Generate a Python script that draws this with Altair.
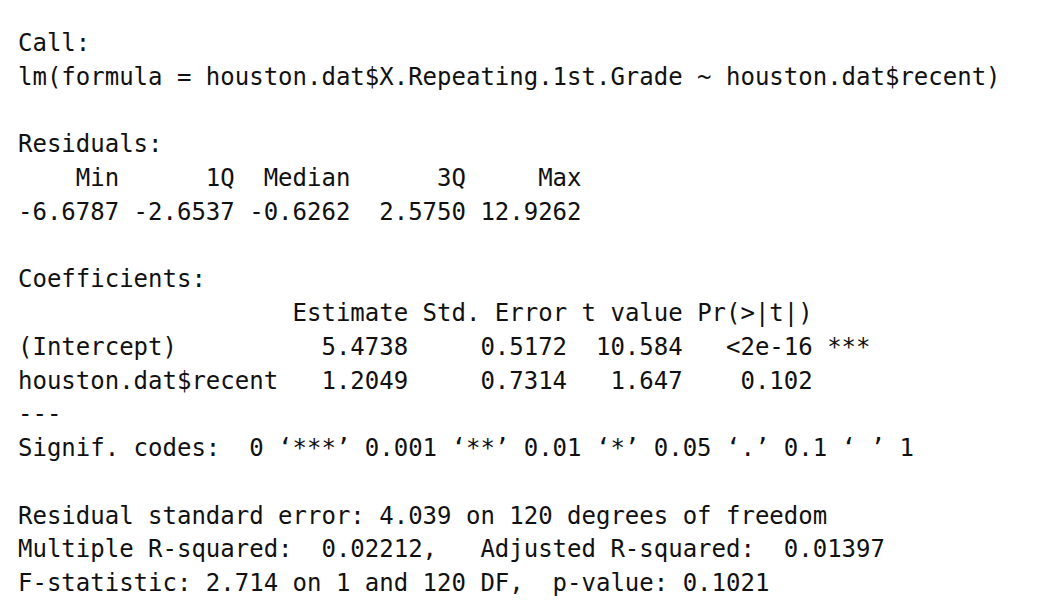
import altair as alt
import pandas as pd

LINES = [
    "Call:",
    "lm(formula = houston.dat$X.Repeating.1st.Grade ~ houston.dat$recent)",
    "",
    "Residuals:",
    "    Min      1Q  Median      3Q     Max ",
    "-6.6787 -2.6537 -0.6262  2.5750 12.9262 ",
    "",
    "Coefficients:",
    "                   Estimate Std. Error t value Pr(>|t|)    ",
    "(Intercept)          5.4738     0.5172  10.584   <2e-16 ***",
    "houston.dat$recent   1.2049     0.7314   1.647    0.102    ",
    "---",
    "Signif. codes:  0 \u2018***\u2019 0.001 \u2018**\u2019 0.01 \u2018*\u2019 0.05 \u2018.\u2019 0.1 \u2018 \u2019 1",
    "",
    "Residual standard error: 4.039 on 120 degrees of freedom",
    "Multiple R-squared:  0.02212,\tAdjusted R-squared:  0.01397 ",
    "F-statistic: 2.714 on 1 and 120 DF,  p-value: 0.1021",
]

rows = []
for i, line in enumerate(LINES):
    line = line.replace("\t", "   ").rstrip()
    if line:
        lead = len(line) - len(line.lstrip(" "))
        rows.append({"row": i, "col": lead,
                     "text": line.lstrip(" ").replace(" ", "\u00a0")})
df = pd.DataFrame(rows)

CHAR_W = 14.45

chart = alt.Chart(df).mark_text(
    align="left", baseline="middle", font="DejaVu Sans Mono",
    fontSize=24, color="#111111"
).encode(
    x=alt.X("col:Q", scale=alt.Scale(domain=[0, 70], range=[10, 10 + 70 * CHAR_W]), axis=None),
    y=alt.Y("row:Q", scale=alt.Scale(domain=[0, 16], range=[36, 576]), axis=None),
    text="text:N",
).properties(
    width=1034, height=600, background="white", padding=0,
    autosize=alt.AutoSizeParams(type="none"),
).configure_view(stroke=None)

chart.save("out.html", embed_options={"renderer": "svg", "actions": False})
